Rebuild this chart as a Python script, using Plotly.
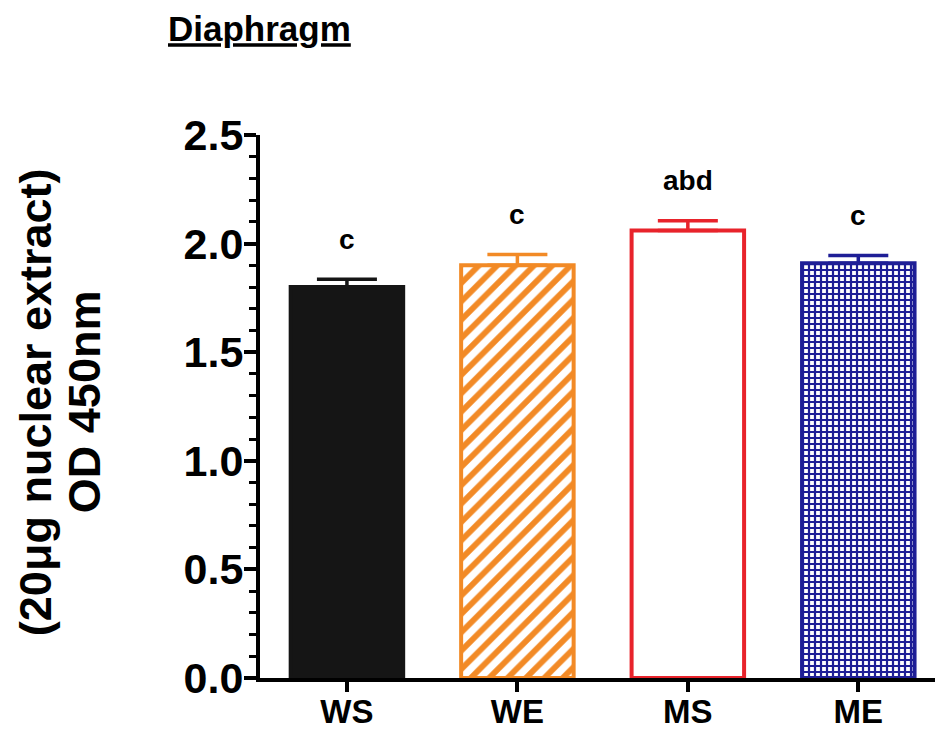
import plotly.graph_objects as go

categories = ["WS", "WE", "MS", "ME"]
means = [1.80, 1.90, 2.06, 1.91]
sems = [0.036, 0.050, 0.045, 0.035]
letters = ["c", "c", "abd", "c"]
colors = ["#151515", "#f28a26", "#e8232b", "#1e1e96"]
patterns = ["", "/", "", "+"]
fills = ["#151515", "white", "white", "white"]
y_ticks = [0.0, 0.5, 1.0, 1.5, 2.0, 2.5]

FONT = "Arial, Liberation Sans, sans-serif"

fig = go.Figure()
for i, cat in enumerate(categories):
    pat = dict(shape=patterns[i], fgcolor=colors[i], bgcolor=fills[i],
               fgopacity=1, fillmode="replace",
               size=13 if patterns[i] == "/" else 6,
               solidity=0.45 if patterns[i] == "/" else 0.6)
    fig.add_trace(go.Bar(
        x=[cat], y=[means[i]], width=0.66, opacity=1,
        marker=dict(color=fills[i], opacity=1,
                    line=dict(color=colors[i], width=4), pattern=pat),
        error_y=dict(type="data", array=[sems[i]], arrayminus=[0],
                     symmetric=False, color=colors[i], thickness=3.5, width=30),
        showlegend=False,
    ))
    fig.add_annotation(x=cat, y=means[i] + sems[i], text="<b>%s</b>" % letters[i],
                       showarrow=False, yshift=40, yanchor="middle",
                       font=dict(family=FONT, size=28, color="black"))

fig.add_annotation(xref="paper", yref="paper", x=(35 - 260) / 675, y=0.508,
                   text="<b>(20μg nuclear extract)</b>", textangle=-90,
                   showarrow=False, xanchor="center", yanchor="middle",
                   font=dict(family=FONT, size=45, color="black"))
fig.add_annotation(xref="paper", yref="paper", x=(84 - 260) / 675, y=0.508,
                   text="<b>OD 450nm</b>", textangle=-90,
                   showarrow=False, xanchor="center", yanchor="middle",
                   font=dict(family=FONT, size=45, color="black"))

fig.update_layout(
    width=935, height=732,
    margin=dict(l=260, r=0, t=135, b=54, autoexpand=False),
    paper_bgcolor="white", plot_bgcolor="white",
    barmode="group",
    title=dict(text="<b><u>Diaphragm</u></b>", xref="container", yref="container",
               x=168 / 935, xanchor="left", y=1 - 29 / 732, yanchor="middle",
               font=dict(family=FONT, size=35, color="black")),
    xaxis=dict(type="category", categoryorder="array", categoryarray=categories,
               range=[-0.51, 3.45], showline=True, linecolor="black", linewidth=4,
               ticks="outside", ticklen=10, tickwidth=3.5, tickcolor="black",
               showgrid=False, zeroline=False, automargin=False,
               ticklabelstandoff=-9,
               tickfont=dict(family=FONT, size=33, color="black"),
               tickprefix="<b>", ticksuffix="</b>"),
    yaxis=dict(range=[0, 2.5], tickvals=y_ticks,
               ticktext=["<b>%.1f</b>" % v for v in y_ticks],
               showline=True, linecolor="black", linewidth=4,
               ticks="outside", ticklen=12, tickwidth=3.5, tickcolor="black",
               minor=dict(dtick=0.1, ticks="outside", ticklen=7, tickwidth=3,
                          tickcolor="black", showgrid=False),
               showgrid=False, zeroline=False, ticklabelstandoff=-8,
               automargin=False,
               tickfont=dict(family=FONT, size=43, color="black")),
)

fig.write_html("out.html")
